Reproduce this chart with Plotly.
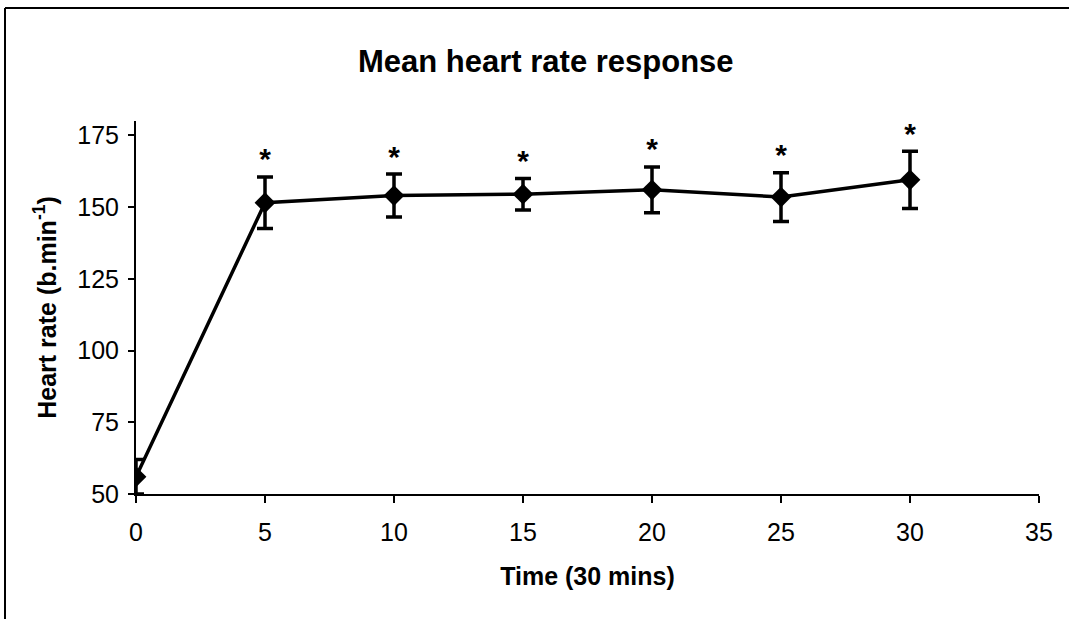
import plotly.graph_objects as go

# Data
time_points = [0, 5, 10, 15, 20, 25, 30]
heart_rate = [56, 151.5, 154, 154.5, 156, 153.5, 159.5]
heart_rate_err = [6, 9, 7.5, 5.5, 8, 8.5, 10]
significant = [False, True, True, True, True, True, True]

x_ticks = [0, 5, 10, 15, 20, 25, 30, 35]
y_ticks = [50, 75, 100, 125, 150, 175]

FONT = "Liberation Sans, Arial, sans-serif"

fig = go.Figure()

fig.add_trace(go.Scatter(
    x=time_points, y=heart_rate,
    mode="lines+markers",
    line=dict(color="black", width=3.5),
    marker=dict(symbol="diamond", size=16, color="black"),
    error_y=dict(type="data", array=heart_rate_err, visible=True,
                 color="black", thickness=3.5, width=8),
    showlegend=False,
    cliponaxis=True,
))

# significance asterisks above the upper error caps
sig_x = [t for t, s in zip(time_points, significant) if s]
sig_y = [h + e for h, e, s in zip(heart_rate, heart_rate_err, significant) if s]
fig.add_trace(go.Scatter(
    x=sig_x, y=sig_y, mode="text", text=["<b>*</b>"] * len(sig_x),
    textposition="top center",
    textfont=dict(family=FONT, size=30, color="black"),
    showlegend=False, cliponaxis=False,
))

L, R, T, B = 136, 30, 121, 125
W, H = 1069, 619
pw, ph = W - L - R, H - T - B

def px_x(px):
    return (px - L) / pw

def px_y(py):
    return (H - B - py) / ph

fig.update_layout(
    width=W, height=H,
    margin=dict(l=L, r=R, t=T, b=B, pad=0),
    paper_bgcolor="white", plot_bgcolor="white",
    font=dict(family=FONT, color="black"),
    xaxis=dict(
        range=[0, 35], tickvals=x_ticks, showgrid=False, zeroline=False,
        showline=True, linecolor="black", linewidth=2,
        ticks="outside", ticklen=7, tickwidth=2, tickcolor="black",
        tickfont=dict(size=25, family=FONT), ticklabelstandoff=8,
        title=dict(text="<b>Time (30 mins)</b>", font=dict(size=25, family=FONT), standoff=22),
    ),
    yaxis=dict(
        range=[50, 180], tickvals=y_ticks, showgrid=False, zeroline=False,
        showline=True, linecolor="black", linewidth=2,
        ticks="outside", ticklen=6, tickwidth=2, tickcolor="black",
        tickfont=dict(size=25, family=FONT), ticklabelstandoff=4,
        title=dict(text="<b>Heart rate (b.min<sup>-1</sup>)</b>", font=dict(size=25, family=FONT), standoff=14),
    ),
    annotations=[dict(
        text="<b>Mean heart rate response</b>", xref="paper", yref="paper",
        x=px_x(546), y=px_y(62), xanchor="center", yanchor="middle",
        showarrow=False, font=dict(size=31, family=FONT, color="black"),
    )],
    shapes=[
        dict(type="line", xref="paper", yref="paper",
             x0=px_x(5), x1=px_x(1075), y0=px_y(8), y1=px_y(8),
             line=dict(color="black", width=2)),
        dict(type="line", xref="paper", yref="paper",
             x0=px_x(5), x1=px_x(5), y0=px_y(8), y1=px_y(625),
             line=dict(color="black", width=2)),
    ],
)

fig.write_html("out.html")
